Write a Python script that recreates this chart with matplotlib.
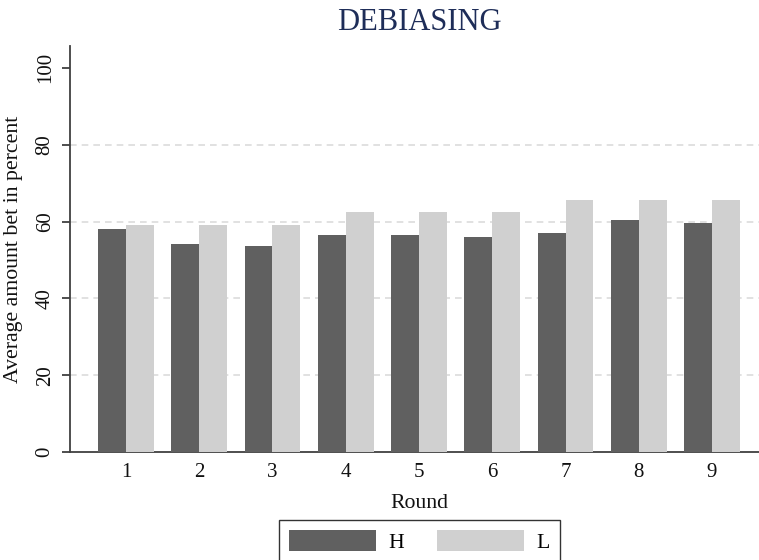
import matplotlib
matplotlib.use("Agg")
import matplotlib.pyplot as plt
import numpy as np

rounds = ["1", "2", "3", "4", "5", "6", "7", "8", "9"]
h_vals = [58.1, 54.2, 53.7, 56.5, 56.5, 56.0, 57.0, 60.4, 59.6]
l_vals = [59.1, 59.1, 59.1, 62.5, 62.5, 62.5, 65.6, 65.6, 65.6]

plt.rcParams['font.family'] = ['Liberation Serif', 'DejaVu Serif']

W, H = 759, 560
fig = plt.figure(figsize=(W / 100, H / 100), dpi=100)
ax = fig.add_axes([70 / W, 1 - 452 / H, 698 / W, 406 / H])

x = np.arange(1, len(rounds) + 1)
bw = 0.382
ax.bar(x - bw / 2, h_vals, width=bw, color='#606060', label='H', zorder=3)
ax.bar(x + bw / 2, l_vals, width=bw, color='#d0d0d0', label='L', zorder=3)

ax.set_xlim(0.2355, 9.7645)
ax.set_ylim(0, 105.7)

ax.set_yticks([0, 20, 40, 60, 80, 100])
for yv in [20, 40, 60, 80]:
    ax.axhline(yv, color='#dcdcdc', lw=1.2, ls=(0, (4, 3)), zorder=1)

ax.set_xticks(x)
ax.set_xticklabels(rounds)
ax.tick_params(axis='x', length=0, pad=8, labelsize=15, colors='#111111')
ax.tick_params(axis='y', length=6, width=1.3, pad=5, labelsize=15,
               color='#404040', labelcolor='#111111')
for lab in ax.get_yticklabels():
    lab.set_rotation(90)
    lab.set_va('center')

for s in ['top', 'right']:
    ax.spines[s].set_visible(False)
for s in ['left', 'bottom']:
    ax.spines[s].set_color('#404040')
    ax.spines[s].set_linewidth(1.3)

ax.set_ylabel('Average amount bet in percent', fontsize=15.7, color='#111111')
ax.yaxis.set_label_coords(-0.0673, 0.5)
ax.set_xlabel('Round', fontsize=15.7, color='#111111')
ax.xaxis.set_label_coords(0.5, -0.104)

fig.text(419 / W, 1 - 23 / H, 'DEBIASING', ha='center', va='center',
         fontsize=22, color='#1e2d58')

leg = fig.legend(loc='upper center', bbox_to_anchor=(419.5 / W, 1 - 520 / H),
                 ncol=2, fontsize=15.6, frameon=True, fancybox=False,
                 edgecolor='black', handlelength=4.0, handleheight=1.1,
                 handletextpad=0.6, columnspacing=1.5, borderpad=0.45,
                 borderaxespad=0)
leg.get_frame().set_linewidth(1.0)

fig.savefig('out.png', dpi=100)
